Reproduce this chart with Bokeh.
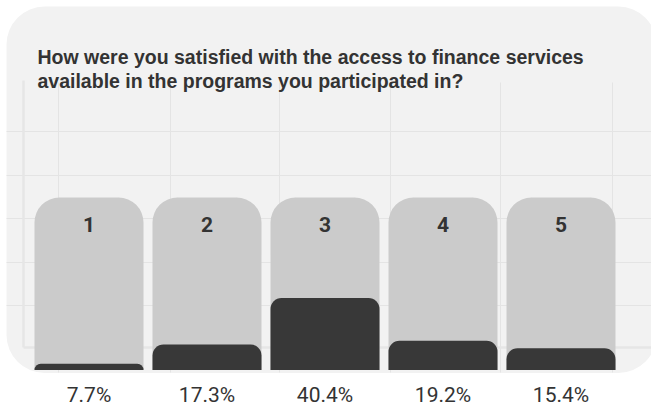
from bokeh.plotting import figure
from bokeh.models import Range1d, ColumnDataSource
from bokeh.core.properties import value
from bokeh.embed import file_html
from bokeh.resources import INLINE

# ---------------- data ----------------
TITLE_LINES = [
    "How were you satisfied with the access to finance services",
    "available in the programs you participated in?",
]
CATEGORIES = ["1", "2", "3", "4", "5"]
PERCENTS = [7.7, 17.3, 40.4, 19.2, 15.4]
TRACK_VALUE = 100  # every grey track stands for 100 %
PCT_LABELS = [f"{v}%" for v in PERCENTS]

# ---------------- layout (page pixels) ----------------
W, H, M = 651, 407, 0
BASELINE_Y = 369.5        # bottom of the bars
TRACK_TOP_Y = 197         # top of the grey tracks
VALUE_AT_BASELINE = 4.6   # value axis starts here
PX_PER_PERCENT = 2.01
FIRST_BAR_X = 88.5
BAR_PITCH = 118
BAR_WIDTH = 109

PANEL = dict(left=6, right=656, top=6, bottom=372.5)
V_GRID_X = [58, 170, 279, 390, 500, 612]
V_GRID_TOP, V_GRID_BOTTOM = 82, 372
H_GRID_Y = [131, 175, 218, 262, 305]
FRAME_X, FRAME_TOP, FRAME_Y = 23, 80, 347

# ---------------- ranges ----------------
page_top, page_bottom = M, M + H
val_start = VALUE_AT_BASELINE - (page_bottom - BASELINE_Y) / PX_PER_PERCENT
val_end = VALUE_AT_BASELINE + (BASELINE_Y - page_top) / PX_PER_PERCENT
trk_px = (BASELINE_Y - TRACK_TOP_Y) / TRACK_VALUE
trk_start = -(page_bottom - BASELINE_Y) / trk_px
trk_end = (BASELINE_Y - page_top) / trk_px
x_start = 0 - (FIRST_BAR_X - M) / BAR_PITCH
x_end = x_start + W / BAR_PITCH
xpos = list(range(len(CATEGORIES)))  # category slots

p = figure(
    width=W, height=H,
    x_range=Range1d(x_start, x_end),
    y_range=Range1d(val_start, val_end),
    output_backend="svg", toolbar_location=None,
    x_axis_location=None, y_axis_location=None,
    min_border=0, min_border_left=0, min_border_right=0,
    min_border_top=0, min_border_bottom=0,
    background_fill_color="white", border_fill_color="white",
    outline_line_color=None,
)
p.grid.visible = False
p.extra_x_ranges = {"px": Range1d(M, M + W)}
p.extra_y_ranges = {"px": Range1d(page_bottom, page_top),
                    "track": Range1d(trk_start, trk_end)}

# panel
p.quad(left=PANEL["left"], right=PANEL["right"], top=PANEL["top"],
       bottom=PANEL["bottom"], x_range_name="px", y_range_name="px",
       fill_color="#f2f2f2", line_color=None, border_radius=38)

# decorative grid
GRID_COL = "#e4e4e4"
p.segment(x0=V_GRID_X, x1=V_GRID_X, y0=[V_GRID_TOP] * len(V_GRID_X),
          y1=[V_GRID_BOTTOM] * len(V_GRID_X), x_range_name="px",
          y_range_name="px", line_color=GRID_COL, line_width=1)
p.segment(x0=[PANEL["left"]] * len(H_GRID_Y), x1=[PANEL["right"]] * len(H_GRID_Y),
          y0=H_GRID_Y, y1=H_GRID_Y, x_range_name="px", y_range_name="px",
          line_color=GRID_COL, line_width=1)
p.segment(x0=[FRAME_X, FRAME_X], x1=[FRAME_X, PANEL["right"]],
          y0=[FRAME_TOP, FRAME_Y], y1=[FRAME_Y, FRAME_Y],
          x_range_name="px", y_range_name="px",
          line_color="#e6e6e6", line_width=2.5)

# bars
src = ColumnDataSource(dict(x=xpos, cat=CATEGORIES, pct=PERCENTS,
                            track=[TRACK_VALUE] * len(CATEGORIES),
                            base=[VALUE_AT_BASELINE] * len(CATEGORIES),
                            tbase=[0] * len(CATEGORIES),
                            lab=PCT_LABELS))
bw = BAR_WIDTH / BAR_PITCH
p.vbar(x="x", top="track", bottom="tbase", width=bw, source=src,
       y_range_name="track", fill_color="#cbcbcb", line_color=None,
       border_radius=(25, 25, 0, 0))
p.vbar(x="x", top="pct", bottom="base", width=bw, source=src,
       fill_color="#383838", line_color=None, border_radius=(11, 11, 0, 0))

# texts
p.text(x="x", y="track", text="cat", source=src, y_range_name="track",
       y_offset=27, text_align="center", text_baseline="alphabetic",
       text_font=value("Roboto"), text_font_style="bold",
       text_font_size="21px", text_color="#333333")
p.text(x="x", y="base", text="lab", source=src,
       y_offset=24.5, text_align="center", text_baseline="alphabetic",
       text_font=value("Roboto"), text_font_size="21px",
       text_color="#333333")
p.text(x=[37, 37], y=[56, 80], text=TITLE_LINES, x_range_name="px",
       y_range_name="px", text_align="left", text_baseline="alphabetic",
       text_font=value("Liberation Sans"), text_font_style="bold",
       text_font_size="19.5px", text_color="#333333")

open("out.html", "w").write(file_html(p, INLINE))
